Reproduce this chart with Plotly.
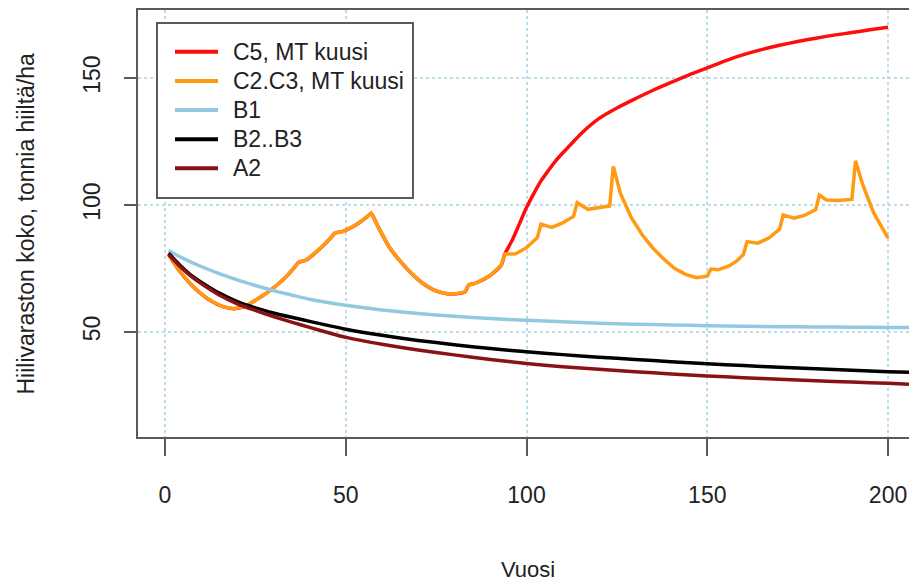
import plotly.graph_objects as go

# ---------------- data ----------------
c5_years = [1, 4, 7, 10, 13, 16, 19, 22, 25, 28, 31, 34, 36, 37, 39, 43, 46, 47, 49, 53, 56, 57,
            59, 62, 65, 68, 71, 74, 77, 80, 83, 84, 86, 90, 93, 94, 96, 98, 100, 102, 104, 106,
            108, 110, 112, 115, 120, 125, 130, 135, 140, 145, 150, 155, 160, 165, 170, 175,
            180, 185, 190, 195, 200]
c5_values = [80.5, 74, 69, 65, 62, 60, 59.2, 60, 62.5, 65.2, 68.5, 72.5, 75.8, 77.5, 78.3, 83, 87.3, 89, 89.5, 92.3, 95.5, 96.8,
             91.3, 83.5, 78, 73.3, 69.5, 66.8, 65.3, 65, 65.8, 68.5, 69.3, 72.3, 76.3, 80.7, 86, 92.5,
             99, 104.5, 109.5, 113.5, 117.3, 120.5, 123.5, 128, 134, 138.2, 141.8, 145.2, 148.3,
             151.3, 154, 156.8, 159.2, 161.2, 162.9, 164.4, 165.7, 166.9, 167.9, 169, 170]

c2c3_years = [1, 4, 7, 10, 13, 16, 19, 22, 25, 28, 31, 34, 36, 37, 39, 43, 46, 47, 49, 53, 56, 57,
              59, 62, 65, 68, 71, 74, 77, 80, 83, 84, 86, 90, 93, 94, 97, 100, 103, 104, 107, 110,
              113, 114, 117, 120, 123, 124, 126, 129, 132, 135, 138, 141, 144, 147, 149, 150, 151,
              153, 156, 158, 160, 161, 164, 167, 170, 171, 174, 177, 180, 181, 183, 186, 190, 191,
              193, 196, 198, 200]
c2c3_values = [80.5, 74, 69, 65, 62, 60, 59.2, 60, 62.5, 65.2, 68.5, 72.5, 75.8, 77.5, 78.3, 83, 87.3, 89, 89.5, 92.3, 95.5, 96.8,
               91.3, 83.5, 78, 73.3, 69.5, 66.8, 65.3, 65, 65.8, 68.5, 69.3, 72.3, 76.3, 80.7, 80.8, 83.2, 87.2, 92.5, 91.2, 93,
               95.5, 100.9, 98.3, 98.8, 99.6, 115.2, 104.5, 95, 88.3, 83, 78.7, 75, 72.7, 71.4, 71.6, 72, 74.8,
               74.5, 76, 77.8, 80.5, 85.6, 85, 87, 90.5, 96.1, 94.8, 96, 98.2, 103.9, 102, 101.8, 102.2, 117.4,
               108, 97, 92, 87]

b1_years = [1, 5, 10, 15, 20, 25, 30, 35, 40, 45, 50, 60, 70, 80, 90, 100, 110, 120, 130, 140,
            150, 160, 170, 180, 190, 200, 210]
b1_values = [82, 79, 75.8, 73, 70.5, 68.3, 66.3, 64.6, 62.9, 61.6, 60.5, 58.7, 57.3, 56.2, 55.3, 54.6,
             54, 53.5, 53.1, 52.8, 52.5, 52.3, 52.1, 52, 51.9, 51.8, 51.7]

b2b3_years = [1, 4, 7, 10, 15, 20, 25, 30, 35, 40, 45, 50, 60, 70, 80, 90, 100, 110, 120, 130,
              140, 150, 160, 170, 180, 190, 200, 210]
b2b3_values = [81, 76.5, 72.6, 69.6, 65.3, 62, 59.5, 57.5, 55.8, 54.2, 52.6, 51.1, 48.7, 46.7, 45,
               43.5, 42.2, 41.1, 40.1, 39.2, 38.3, 37.5, 36.8, 36.1, 35.5, 34.9, 34.4, 33.9]

a2_years = [1, 4, 7, 10, 15, 20, 25, 30, 35, 40, 45, 50, 60, 70, 80, 90, 100, 110, 120, 130,
            140, 150, 160, 170, 180, 190, 200, 210]
a2_values = [80.5, 76, 72.2, 69.1, 64.6, 61.1, 58.5, 56.1, 53.9, 51.8, 49.8, 47.9, 45.2, 42.9, 41,
             39.2, 37.6, 36.3, 35.3, 34.4, 33.5, 32.7, 32, 31.4, 30.8, 30.3, 29.8, 29.2]

series_names = ["C5, MT kuusi", "C2.C3, MT kuusi", "B1", "B2..B3", "A2"]
series_colors = ["#ff0d0d", "#ff9a12", "#92c9e0", "#000000", "#8b1212"]

x_ticks = [0, 50, 100, 150, 200]
y_ticks = [50, 100, 150]
x_title = "Vuosi"
y_title = "Hiilivaraston koko, tonnia hiiltä/ha"

# ---------------- figure ----------------
W, H = 909, 582
L, T, R = 138, 10, 0
B = H - 437
PW, PH = W - L - R, H - T - B
FONT = "Liberation Sans, Arial, Helvetica, sans-serif"
AX = "#5a5a5a"
GRID = "#bcdcea"


def px(xs):
    """window x pixel -> paper x"""
    return (xs - L) / PW


def py(ys):
    """window y pixel -> paper y"""
    return (H - B - ys) / PH


fig = go.Figure()
data = [(c5_years, c5_values, "spline"), (c2c3_years, c2c3_values, "linear"),
        (b1_years, b1_values, "spline"), (b2b3_years, b2b3_values, "spline"),
        (a2_years, a2_values, "spline")]
for (xs, ys, shape), name, col in zip(data, series_names, series_colors):
    fig.add_trace(go.Scatter(x=xs, y=ys, mode="lines", name=name, showlegend=False,
                             line=dict(color=col, width=3.5, shape=shape, smoothing=0.6)))

fig.update_layout(
    width=W, height=H, margin=dict(l=L, r=R, t=T, b=B, pad=0),
    paper_bgcolor="white", plot_bgcolor="white",
    font=dict(family=FONT, size=23, color="#222222"),
    xaxis=dict(range=[-7.47, 205.8], tickvals=x_ticks, ticktext=[str(v) for v in x_ticks],
               showgrid=True, gridcolor=GRID, griddash="dot", gridwidth=1.5,
               showline=True, mirror=True, linecolor=AX, linewidth=2,
               ticks="outside", ticklen=17, tickwidth=2, tickcolor=AX,
               ticklabelstandoff=19, zeroline=False,
               tickfont=dict(size=23, color="#222222")),
    yaxis=dict(range=[8.66, 176.8], tickvals=y_ticks, ticktext=[str(v) for v in y_ticks],
               showgrid=True, gridcolor=GRID, griddash="dot", gridwidth=1.5,
               showline=True, mirror=False, linecolor=AX, linewidth=2,
               ticks="outside", ticklen=12, tickwidth=2, tickcolor=AX,
               tickangle=-90, ticklabelstandoff=15, zeroline=False,
               tickfont=dict(size=23, color="#222222")),
    showlegend=False,
)

annotations = [
    dict(text=x_title, x=px(528), y=py(569), xref="paper", yref="paper",
         showarrow=False, xanchor="center", yanchor="middle", font=dict(size=22)),
    dict(text=y_title, x=px(25.5), y=py(224), xref="paper", yref="paper", textangle=-90,
         showarrow=False, xanchor="center", yanchor="middle", font=dict(size=23)),
]

shapes = [
    dict(type="rect", xref="paper", yref="paper", x0=px(157), x1=px(413), y0=py(198), y1=py(23),
         line=dict(color=AX, width=2), fillcolor="white", layer="above"),
]
legend_rows = [51.7, 81, 110, 139.3, 168.3]
for name, col, yr in zip(series_names, series_colors, legend_rows):
    shapes.append(dict(type="line", xref="paper", yref="paper", x0=px(175), x1=px(218),
                       y0=py(yr), y1=py(yr), line=dict(color=col, width=4), layer="above"))
    annotations.append(dict(text=name, x=px(231), y=py(yr), xref="paper", yref="paper",
                            showarrow=False, xanchor="left", yanchor="middle",
                            font=dict(size=23, color="#222222")))

fig.update_layout(shapes=shapes, annotations=annotations)
fig.write_html(
    "out.html",
    config={"displayModeBar": False},
    post_script="document.body.style.margin='0px';document.body.style.overflow='hidden';",
)
